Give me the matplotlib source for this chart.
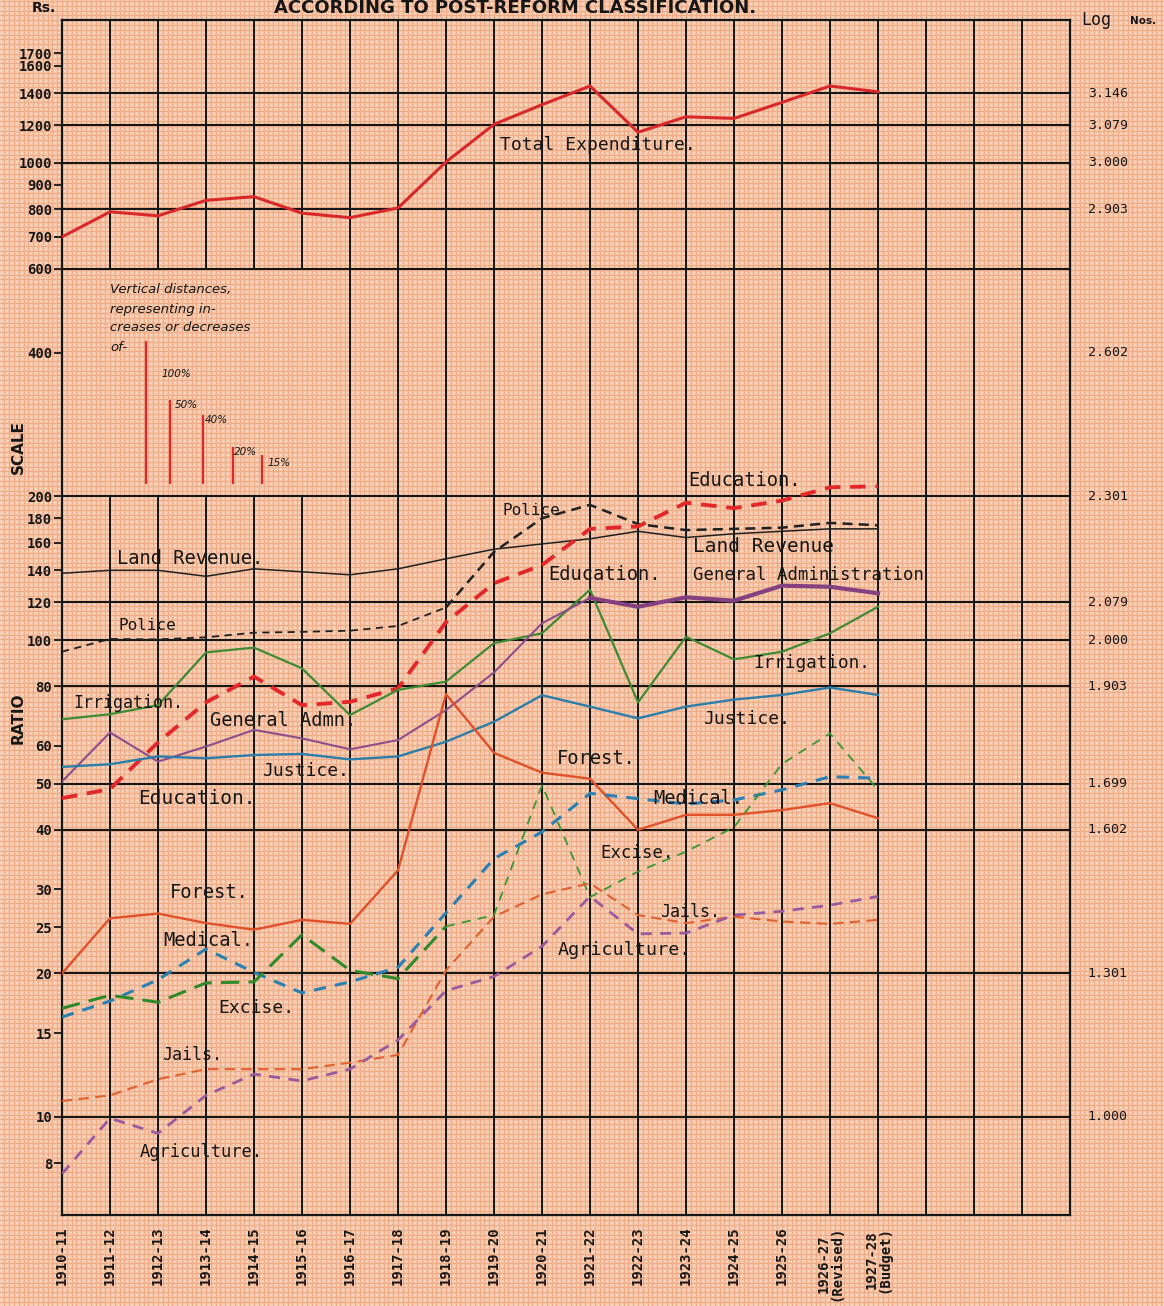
import numpy as np
import matplotlib
matplotlib.use("Agg")
import matplotlib.pyplot as plt
from matplotlib.ticker import NullLocator

W, H = 1164, 1306

years = ["1910-11", "1911-12", "1912-13", "1913-14", "1914-15", "1915-16",
         "1916-17", "1917-18", "1918-19", "1919-20", "1920-21", "1921-22",
         "1922-23", "1923-24", "1924-25", "1925-26",
         "1926-27\n(Revised)", "1927-28\n(Budget)"]

total_expenditure = [700, 790, 775, 835, 850, 785, 768, 805, 1005, 1205,
                     1325, 1450, 1160, 1250, 1240, 1340, 1450, 1410]
land_revenue = [138, 140, 140, 136, 141, 139, 137, 141, 148, 155,
                159, 163, 169, 164, 167, 169, 171, 171]
police = [94.5, 100.5, 100.3, 101.3, 103.6, 104, 104.6, 107, 117, 153,
          180, 192, 175, 170, 171, 172, 176, 174]
education = [46.6, 48.7, 61, 74, 83.8, 73, 74.2, 79.2, 109, 131.5,
             143.6, 171, 173, 194, 189, 196, 209, 210]
irrigation = [68.2, 69.9, 73, 94.2, 96.4, 87.2, 69.6, 78.6, 81.8, 98.5,
              103.3, 127.5, 74, 101.6, 91.1, 94.5, 103.3, 117.4]
general_admn = [50.5, 64, 55.6, 59.8, 64.8, 62.2, 59, 61.7, 71.3, 85.5,
                108.4, 122.5, 117.4, 122.9, 120.9, 130, 129.3, 125.3]
justice = [54.2, 54.9, 57, 56.5, 57.4, 57.7, 56.2, 57, 61.2, 67.4,
           76.6, 72.5, 68.5, 72.5, 75, 76.7, 79.5, 76.7]
forest = [20.0, 26.1, 26.7, 25.5, 24.7, 25.9, 25.4, 32.9, 77, 58,
          52.7, 51.2, 40, 43, 43, 44, 45.5, 42.3]
medical = [16.2, 17.5, 19.4, 22.5, 20.1, 18.2, 19.2, 20.6, 26.8, 34.8,
           39.6, 47.7, 46.5, 45.3, 46.2, 48.5, 51.7, 51.3]
excise = [16.9, 18.0, 17.4, 19.1, 19.2, 24.1, 20.3, 19.5, 25.1, 26.5,
          49.6, 28.9, 32.7, 36, 40.5, 55, 63.7, 48.5]
jails = [10.8, 11.1, 12, 12.6, 12.6, 12.6, 13.0, 13.5, 20.3, 26.3,
         29.3, 30.9, 26.5, 25.5, 26.3, 25.7, 25.4, 25.9]
agriculture = [7.6, 9.94, 9.24, 11.1, 12.3, 11.9, 12.6, 14.5, 18.4, 19.7,
               22.8, 29, 24.2, 24.3, 26.5, 27, 27.8, 29]

left_ticks = [8, 10, 15, 20, 25, 30, 40, 50, 60, 80, 100, 120, 140, 160, 180,
              200, 400, 600, 700, 800, 900, 1000, 1200, 1400, 1600, 1700]
log_ticks = [10, 20, 40, 50, 80, 100, 120, 200, 400, 800, 1000, 1200, 1400]
major_lines = [10, 20, 40, 50, 80, 100, 120, 200, 600, 800, 1000, 1200, 1400]
key_pcts = [100, 50, 40, 20, 15]

MONO = ["DejaVu Sans Mono"]
INK = "#161616"

fig = plt.figure(figsize=(W / 100, H / 100), dpi=100)
fig.patch.set_facecolor("#f7d2b8")

# graph-paper background
bg = fig.add_axes([0, 0, 1, 1], zorder=0)
bg.set_xlim(0, W)
bg.set_ylim(H, 0)
bg.axis("off")
bg.vlines(np.arange(4.4, W, 4.8), 0, H, color="#eeac88", lw=1.0)
bg.hlines(np.arange(1.0, H, 4.8), 0, W, color="#eeac88", lw=1.0)

ymin = 100 * 10 ** ((640 - 1215) / 477)
ymax = 100 * 10 ** ((640 - 20) / 477)

ax = fig.add_axes([62 / W, 1 - 1215 / H, (1070 - 62) / W, (1215 - 20) / H], zorder=1)
ax.set_facecolor("none")
ax.set_yscale("log")
ax.set_xlim(0, 21)
ax.set_ylim(ymin, ymax)

# heavy grid
for i in range(1, 21):
    if 1 <= i <= 5:
        ax.vlines(i, ymin, 200, color=INK, lw=1.4, zorder=1)
        ax.vlines(i, 600, ymax, color=INK, lw=1.4, zorder=1)
    else:
        ax.vlines(i, ymin, ymax, color=INK, lw=1.4, zorder=1)
ax.hlines(major_lines, 0, 21, color=INK, lw=1.5, zorder=1)
for s in ax.spines.values():
    s.set_color(INK)
    s.set_linewidth(1.6)

ax.yaxis.set_minor_locator(NullLocator())
ax.set_yticks(left_ticks)
ax.set_yticklabels([str(v) for v in left_ticks], fontfamily=MONO,
                   fontweight="bold", fontsize=10)
ax.tick_params(axis="y", direction="out", length=6, width=1.3, pad=1, colors=INK)
ax.set_xticks(range(len(years)))
ax.set_xticklabels(years, rotation=90, fontfamily=MONO, fontsize=10,
                   fontweight="bold", linespacing=0.95)
ax.tick_params(axis="x", length=0, pad=8, colors=INK)

# right-hand log labels
ytr = ax.get_yaxis_transform()
for v in log_ticks:
    ax.text(1.0375, v, f"{np.log10(v):.3f}", transform=ytr, ha="center",
            va="center", fontfamily=MONO, fontsize=9.5, color=INK)

x = np.arange(len(years))
red = "#d8282a"
ax.plot(x, total_expenditure, color=red, lw=2.2, zorder=3)
ax.plot(x, land_revenue, color="#202020", lw=1.1, zorder=3)
ax.plot(x[:9], police[:9], color="#202020", lw=1.3, ls=(0, (4, 3)), zorder=3)
ax.plot(x[8:], police[8:], color="#202020", lw=1.8, ls=(0, (4, 2.5)), zorder=3)
ax.plot(x, education, color="#e2282a", lw=2.8, ls=(0, (4, 2.5)), zorder=3)
ax.plot(x, irrigation, color="#3f8a34", lw=1.6, zorder=3)
ax.plot(x[:12], general_admn[:12], color="#8d4f8c", lw=1.5, zorder=3)
ax.plot(x[11:], general_admn[11:], color="#84407f", lw=3.0, zorder=3)
ax.plot(x, justice, color="#2c7eaa", lw=1.7, zorder=3)
ax.plot(x, forest, color="#e0512b", lw=1.7, zorder=3)
ax.plot(x, medical, color="#2a80b2", lw=2.2, ls=(0, (4, 3)), zorder=3)
ax.plot(x[:9], excise[:9], color="#2f8a2c", lw=2.2, ls=(0, (6, 3)), zorder=3)
ax.plot(x[8:], excise[8:], color="#3c9634", lw=1.3, ls=(0, (5, 4)), zorder=3)
ax.plot(x, jails, color="#e0602f", lw=1.5, ls=(0, (5, 3)), zorder=3)
ax.plot(x, agriculture, color="#9a5a9e", lw=2.0, ls=(0, (4, 3)), zorder=3)

# key of vertical distances
key_x = [1.75, 2.25, 2.94, 3.56, 4.17]
key_base = 212
for kx, p in zip(key_x, key_pcts):
    ax.vlines(kx, key_base, key_base * (1 + p / 100), color="#e0282a", lw=1.6, zorder=3)


def ftext(px, py, s, size=13, **kw):
    kw.setdefault("fontfamily", MONO)
    kw.setdefault("color", INK)
    kw.setdefault("ha", "left")
    kw.setdefault("va", "center")
    fig.text(px / W, 1 - py / H, s, fontsize=size, zorder=5, **kw)


key_labels = [(162, 374, "100%"), (175, 405, "50%"), (205, 420, "40%"),
              (234, 452, "20%"), (268, 463, "15%")]
for px, py, s in key_labels:
    ftext(px, py, s, size=7.5, style="italic", fontfamily=["DejaVu Sans"])
for py, s in [(290, "Vertical distances,"), (310, "representing in-"),
              (328, "creases or decreases"), (347, "of-")]:
    ftext(110, py, s, size=9.5, style="italic", fontfamily=["DejaVu Sans"])

series_labels = [
    (500, 145, "Total Expenditure.", 13),
    (117, 558, "Land Revenue.", 13.5),
    (118, 625, "Police", 11.5),
    (73, 703, "Irrigation.", 12),
    (210, 721, "General Admn.", 13.5),
    (262, 771, "Justice.", 13),
    (138, 799, "Education.", 14),
    (688, 481, "Education.", 13.5),
    (502, 510, "Police", 11.5),
    (693, 547, "Land Revenue", 14),
    (548, 575, "Education.", 13.5),
    (693, 575, "General Administration", 12.5),
    (753, 663, "Irrigation.", 12.8),
    (703, 719, "Justice.", 13),
    (557, 759, "Forest.", 13.5),
    (653, 798, "Medical.", 13.5),
    (600, 853, "Excise.", 12.5),
    (660, 912, "Jails.", 12),
    (558, 950, "Agriculture.", 13.2),
    (170, 893, "Forest.", 13.5),
    (163, 940, "Medical.", 13.5),
    (218, 1008, "Excise.", 13),
    (162, 1055, "Jails.", 12),
    (140, 1152, "Agriculture.", 12.3),
]
for px, py, s, sz in series_labels:
    ftext(px, py, s, size=sz)

ftext(515, 8, "ACCORDING TO POST-REFORM CLASSIFICATION.", size=13,
      ha="center", fontweight="bold", fontfamily=["DejaVu Sans"])
ftext(44, 8, "Rs.", size=10, ha="center", fontweight="bold", fontfamily=["DejaVu Sans"])
ftext(18, 447, "SCALE", size=11, ha="center", rotation=90, fontweight="bold",
      fontfamily=["DejaVu Sans"])
ftext(18, 718, "RATIO", size=11, ha="center", rotation=90, fontweight="bold",
      fontfamily=["DejaVu Sans"])
ftext(1081, 20, "Log", size=12)
ftext(1130, 21, "Nos.", size=7.5, fontweight="bold", fontfamily=["DejaVu Sans"])

fig.savefig("out.png", dpi=100, facecolor=fig.get_facecolor())
